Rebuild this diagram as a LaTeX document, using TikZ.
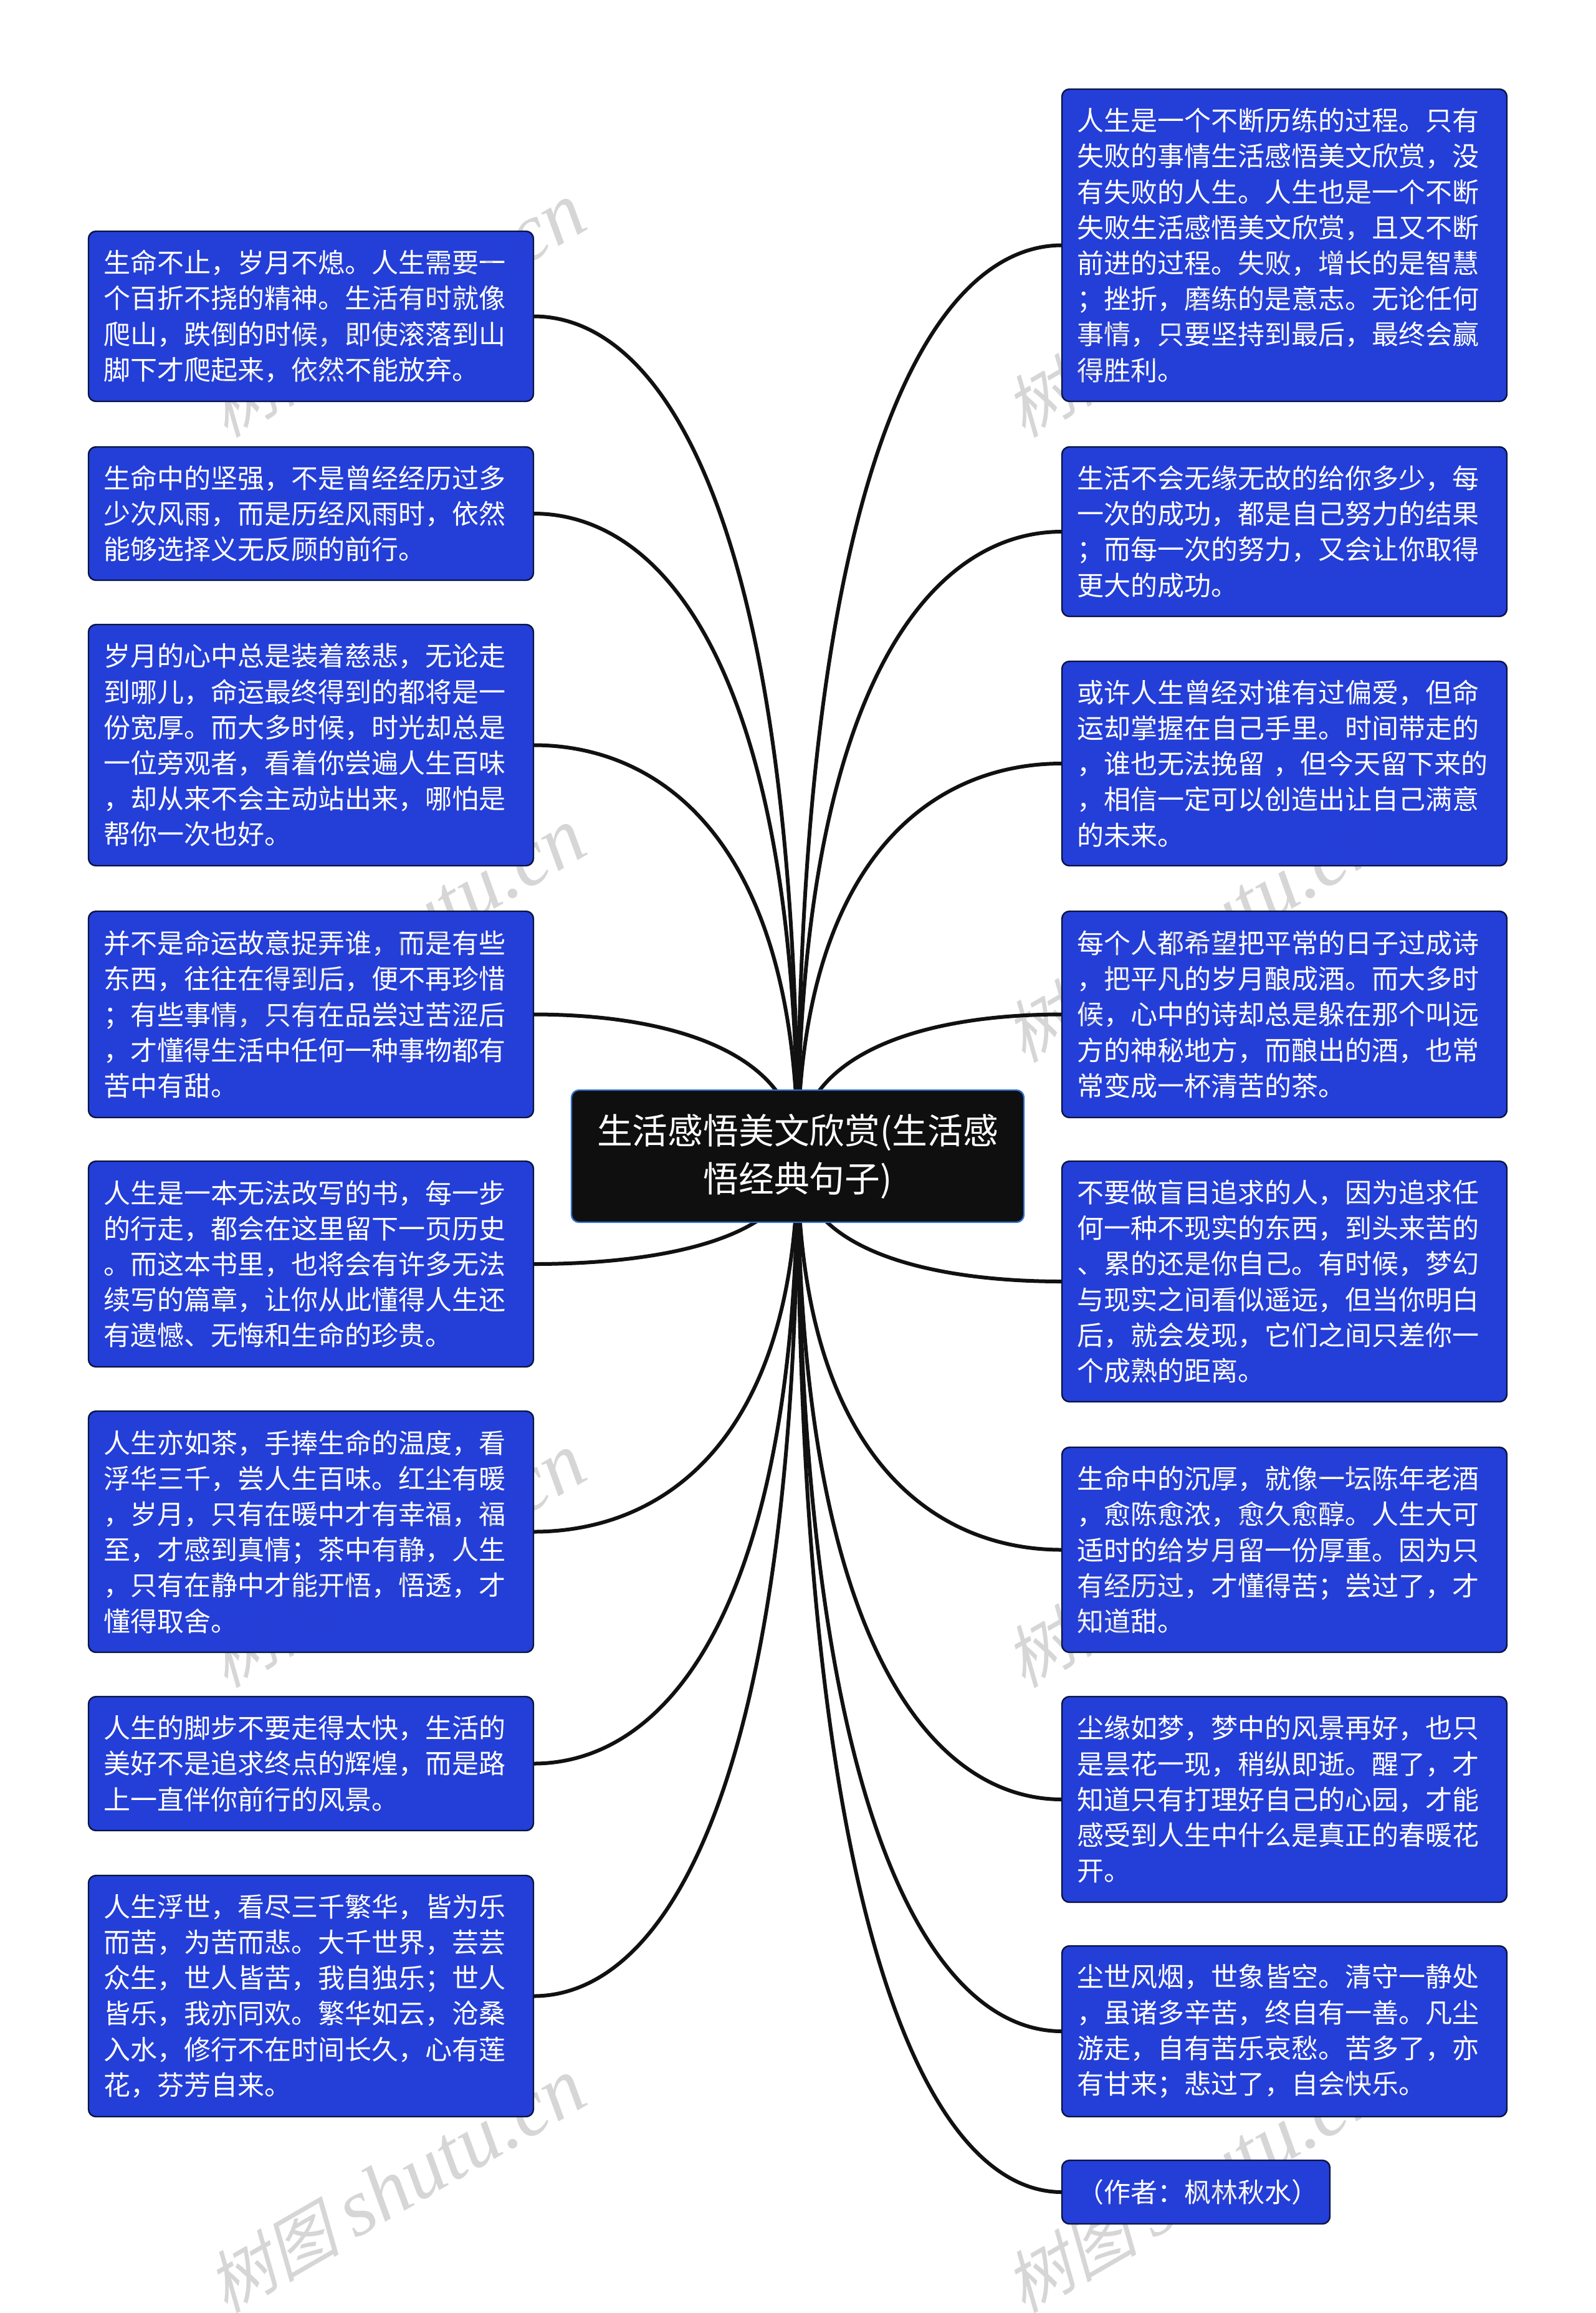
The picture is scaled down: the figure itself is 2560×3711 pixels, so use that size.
\documentclass[tikz,border=0pt]{standalone}
\usepackage{fontspec}
\usepackage{tikz}
\usetikzlibrary{backgrounds}
\usetikzlibrary{calc}
\newfontfamily\cjk{Noto Sans CJK SC}
\newfontfamily\markcjk[FakeSlant=0.25]{Noto Sans CJK SC}
\newfontfamily\marklatin{Liberation Serif}
\definecolor{cardblue}{HTML}{243ED8}
\definecolor{cardline}{HTML}{0A1440}
\definecolor{rootfill}{HTML}{0F0F0F}
\definecolor{rootline}{HTML}{2F6FD0}
\definecolor{linkblack}{HTML}{111111}
\definecolor{stampgrey}{HTML}{D6D6D6}

\begin{document}
\begin{tikzpicture}[x=0.5pt, y=-0.5pt,
		card/.style={draw=cardline, fill=cardblue, line width=1.2pt, rounded corners=6pt, text=white, anchor=north west,
			outer sep=0pt, inner xsep=12pt, inner ysep=0pt, text width=333pt, align=left, font=\cjk\fontsize{21.5pt}{28.6pt}\selectfont},
		rootbox/.style={draw=rootline, fill=rootfill, line width=1.2pt, rounded corners=6pt, text=white, anchor=north west,
			outer sep=0pt, minimum width=363pt, minimum height=106pt, align=center, font=\cjk\fontsize{28.4pt}{38.5pt}\selectfont},
		link/.style={draw=linkblack, line width=3pt},
		stamp/.style={text=stampgrey, rotate=30}]
	\useasboundingbox (0,0) rectangle (2560,3711);

	\node[rootbox] (root) at (917,1749) {生活感悟美文欣赏(生活感\\悟经典句子)};

	% left side
	\node[card, minimum height=136.5pt] (l1) at (142,371) {生命不止，岁月不熄。人生需要一\\个百折不挠的精神。生活有时就像\\爬山，跌倒的时候，即使滚落到山\\脚下才爬起来，依然不能放弃。};
	\node[card, minimum height=107pt] (l2) at (142,717) {生命中的坚强，不是曾经经历过多\\少次风雨，而是历经风雨时，依然\\能够选择义无反顾的前行。};
	\node[card, minimum height=193.5pt] (l3) at (142,1002) {岁月的心中总是装着慈悲，无论走\\到哪儿，命运最终得到的都将是一\\份宽厚。而大多时候，时光却总是\\一位旁观者，看着你尝遍人生百味\\，却从来不会主动站出来，哪怕是\\帮你一次也好。};
	\node[card, minimum height=165.5pt] (l4) at (142,1462) {并不是命运故意捉弄谁，而是有些\\东西，往往在得到后，便不再珍惜\\；有些事情，只有在品尝过苦涩后\\，才懂得生活中任何一种事物都有\\苦中有甜。};
	\node[card, minimum height=165pt] (l5) at (142,1863) {人生是一本无法改写的书，每一步\\的行走，都会在这里留下一页历史\\。而这本书里，也将会有许多无法\\续写的篇章，让你从此懂得人生还\\有遗憾、无悔和生命的珍贵。};
	\node[card, minimum height=193.5pt] (l6) at (142,2264) {人生亦如茶，手捧生命的温度，看\\浮华三千，尝人生百味。红尘有暖\\，岁月，只有在暖中才有幸福，福\\至，才感到真情；茶中有静，人生\\，只有在静中才能开悟，悟透，才\\懂得取舍。};
	\node[card, minimum height=107.5pt] (l7) at (142,2722) {人生的脚步不要走得太快，生活的\\美好不是追求终点的辉煌，而是路\\上一直伴你前行的风景。};
	\node[card, minimum height=193.5pt] (l8) at (142,3009) {人生浮世，看尽三千繁华，皆为乐\\而苦，为苦而悲。大千世界，芸芸\\众生，世人皆苦，我自独乐；世人\\皆乐，我亦同欢。繁华如云，沧桑\\入水，修行不在时间长久，心有莲\\花，芬芳自来。};

	% right side
	\node[card, minimum height=250.5pt] (r1) at (1704,143) {人生是一个不断历练的过程。只有\\失败的事情生活感悟美文欣赏，没\\有失败的人生。人生也是一个不断\\失败生活感悟美文欣赏，且又不断\\前进的过程。失败，增长的是智慧\\；挫折，磨练的是意志。无论任何\\事情，只要坚持到最后，最终会赢\\得胜利。};
	\node[card, minimum height=136pt] (r2) at (1704,717) {生活不会无缘无故的给你多少，每\\一次的成功，都是自己努力的结果\\；而每一次的努力，又会让你取得\\更大的成功。};
	\node[card, minimum height=164pt] (r3) at (1704,1061) {或许人生曾经对谁有过偏爱，但命\\运却掌握在自己手里。时间带走的\\，谁也无法挽留 ，但今天留下来的\\，相信一定可以创造出让自己满意\\的未来。};
	\node[card, minimum height=165.5pt] (r4) at (1704,1462) {每个人都希望把平常的日子过成诗\\，把平凡的岁月酿成酒。而大多时\\候，心中的诗却总是躲在那个叫远\\方的神秘地方，而酿出的酒，也常\\常变成一杯清苦的茶。};
	\node[card, minimum height=193pt] (r5) at (1704,1863) {不要做盲目追求的人，因为追求任\\何一种不现实的东西，到头来苦的\\、累的还是你自己。有时候，梦幻\\与现实之间看似遥远，但当你明白\\后，就会发现，它们之间只差你一\\个成熟的距离。};
	\node[card, minimum height=164.5pt] (r6) at (1704,2322) {生命中的沉厚，就像一坛陈年老酒\\，愈陈愈浓，愈久愈醇。人生大可\\适时的给岁月留一份厚重。因为只\\有经历过，才懂得苦；尝过了，才\\知道甜。};
	\node[card, minimum height=165pt] (r7) at (1704,2722) {尘缘如梦，梦中的风景再好，也只\\是昙花一现，稍纵即逝。醒了，才\\知道只有打理好自己的心园，才能\\感受到人生中什么是真正的春暖花\\开。};
	\node[card, minimum height=137pt] (r8) at (1704,3122) {尘世风烟，世象皆空。清守一静处\\，虽诸多辛苦，终自有一善。凡尘\\游走，自有苦乐哀愁。苦多了，亦\\有甘来；悲过了，自会快乐。};
	\node[card, minimum height=51pt, text width=191pt] (r9) at (1704,3466) {（作者：枫林秋水）};

	\begin{scope}[on background layer]
		\foreach \card in {l1,l2,l3,l4,l5,l6,l7,l8}
			\draw[link] (root.center) .. controls ($(root.center)!0.75!(root.center |- \card.east)$) and ($(root.center |- \card.east)!0.5!(\card.east)$) .. (\card.east);
		\foreach \card in {r1,r2,r3,r4,r5,r6,r7,r8,r9}
			\draw[link] (root.center) .. controls ($(root.center)!0.75!(root.center |- \card.west)$) and ($(root.center |- \card.west)!0.5!(\card.west)$) .. (\card.west);
	\end{scope}

	% watermark
	\begin{scope}[blend mode=darken]
		\foreach \col in {0,1}
			\foreach \row in {0,1,2,3}
				\node[stamp] (mark\col\row) at (635+1280*\col,3508-1003*\row) {\fontsize{54pt}{60pt}\markcjk 树图 \fontsize{65pt}{60pt}\marklatin\itshape shutu.cn};
	\end{scope}
\end{tikzpicture}
\end{document}
